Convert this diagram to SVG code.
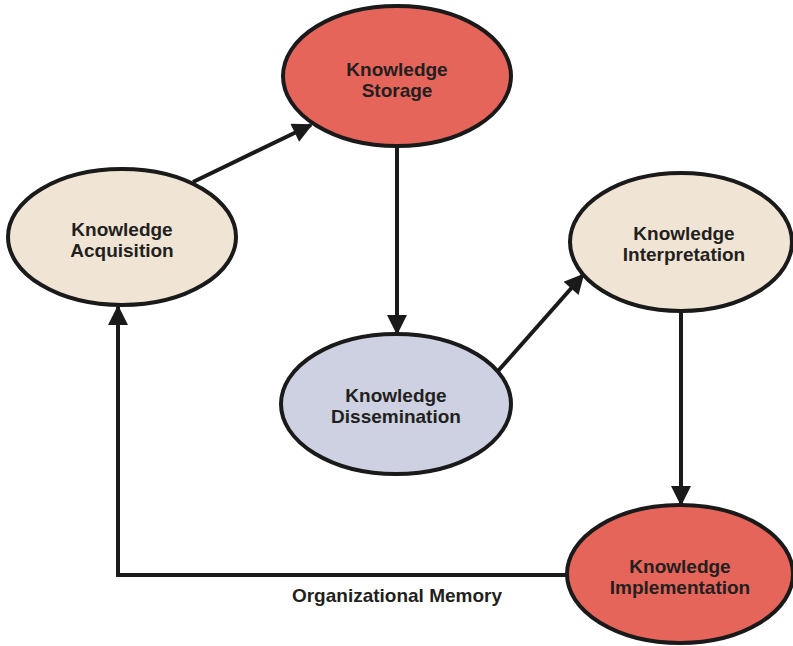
<svg xmlns="http://www.w3.org/2000/svg" width="793" height="646" viewBox="0 0 793 646">
  <style>
    .node { stroke: #1a1a1a; stroke-width: 4; }
    .red { fill: #e5655a; }
    .beige { fill: #f0e4d4; }
    .lav { fill: #cdd1e1; }
    .lbl { font-family: "Liberation Sans", Arial, sans-serif; font-weight: bold; font-size: 19px; fill: #231f20; text-anchor: middle; }
    .edge { fill: none; stroke: #1a1a1a; stroke-width: 4; }
  </style>
  <defs>
    <marker id="arrow" viewBox="0 0 10 10" refX="9" refY="5" markerWidth="5.5" markerHeight="5" markerUnits="strokeWidth" orient="auto">
      <path d="M0,0 L10,5 L0,10 Z" fill="#1a1a1a"/>
    </marker>
  </defs>
  <rect width="793" height="646" fill="#ffffff"/>

  <g id="connectors">
    <line class="edge" x1="193" y1="182" x2="311" y2="125" marker-end="url(#arrow)"/>
    <line class="edge" x1="397" y1="146" x2="397" y2="333" marker-end="url(#arrow)"/>
    <line class="edge" x1="498" y1="371" x2="583" y2="275" marker-end="url(#arrow)"/>
    <line class="edge" x1="681" y1="311" x2="681" y2="504" marker-end="url(#arrow)"/>
    <polyline class="edge" points="567,575 118,575 118,307" marker-end="url(#arrow)"/>
  </g>

  <g id="storage">
    <ellipse class="node red" cx="397" cy="76" rx="114" ry="70"/>
    <text class="lbl" x="397" y="76">Knowledge</text>
    <text class="lbl" x="397" y="97">Storage</text>
  </g>
  <g id="acquisition">
    <ellipse class="node beige" cx="122" cy="237" rx="114" ry="68"/>
    <text class="lbl" x="122" y="236">Knowledge</text>
    <text class="lbl" x="122" y="257">Acquisition</text>
  </g>
  <g id="dissemination">
    <ellipse class="node lav" cx="396" cy="404" rx="115" ry="70"/>
    <text class="lbl" x="396" y="402">Knowledge</text>
    <text class="lbl" x="396" y="423">Dissemination</text>
  </g>
  <g id="interpretation">
    <ellipse class="node beige" cx="681" cy="242" rx="111" ry="69"/>
    <text class="lbl" x="684" y="240">Knowledge</text>
    <text class="lbl" x="684" y="261">Interpretation</text>
  </g>
  <g id="implementation">
    <ellipse class="node red" cx="680" cy="574" rx="113" ry="69"/>
    <text class="lbl" x="680" y="573">Knowledge</text>
    <text class="lbl" x="680" y="594">Implementation</text>
  </g>
  <g id="memory-label">
    <text class="lbl" x="397" y="602">Organizational Memory</text>
  </g>
</svg>
